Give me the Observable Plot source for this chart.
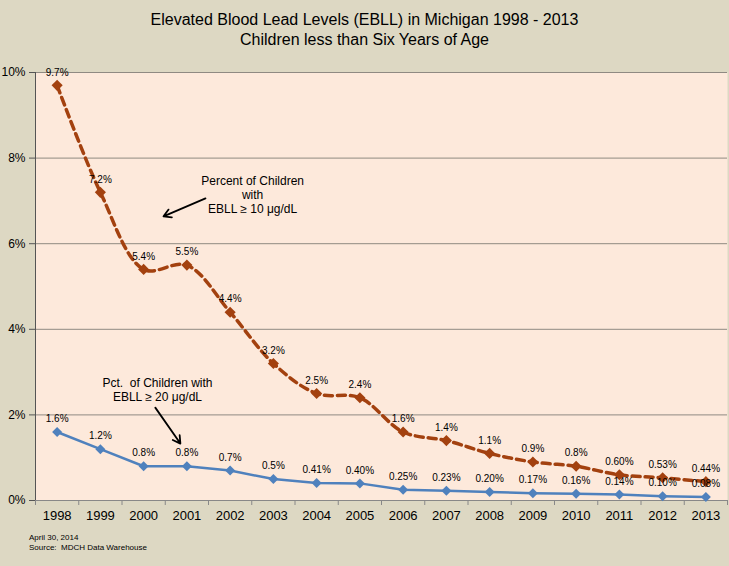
<!DOCTYPE html>
<html><head><meta charset="utf-8">
<script src="https://cdn.jsdelivr.net/npm/d3@7"></script>
<script src="https://cdn.jsdelivr.net/npm/@observablehq/plot@0.6"></script>
<style>
html,body{margin:0;padding:0;background:#DDD8C3;width:729px;height:566px;overflow:hidden;font-family:"Liberation Sans",Arial,sans-serif;}
#title{height:60px;text-align:center;font-size:16px;line-height:20px;padding-top:0;color:#000;}
#title div:first-child{padding-top:10px;}
#chart svg{display:block;}
#foot{position:absolute;left:29px;top:533px;font-size:8px;line-height:10px;color:#000;}
</style></head>
<body>
<div id="title"><div>Elevated Blood Lead Levels (EBLL) in Michigan 1998 - 2013</div><div>Children less than Six Years of Age</div></div>
<div id="chart"></div>
<div id="foot">April 30, 2014<br>Source:&nbsp; MDCH Data Warehouse</div>
<script>
const years = [1998,1999,2000,2001,2002,2003,2004,2005,2006,2007,2008,2009,2010,2011,2012,2013];
const ebll10 = [9.7,7.2,5.4,5.5,4.4,3.2,2.5,2.4,1.6,1.4,1.1,0.9,0.8,0.60,0.53,0.44];
const labels10 = ["9.7%","7.2%","5.4%","5.5%","4.4%","3.2%","2.5%","2.4%","1.6%","1.4%","1.1%","0.9%","0.8%","0.60%","0.53%","0.44%"];
const ebll20 = [1.6,1.2,0.8,0.8,0.7,0.5,0.41,0.40,0.25,0.23,0.20,0.17,0.16,0.14,0.10,0.08];
const labels20 = ["1.6%","1.2%","0.8%","0.8%","0.7%","0.5%","0.41%","0.40%","0.25%","0.23%","0.20%","0.17%","0.16%","0.14%","0.10%","0.08%"];
const yTicks = [0,2,4,6,8,10];
const notes = [
  {x:2002.52, y:7.59, text:"Percent of Children\nwith\nEBLL ≥ 10 μg/dL"},
  {x:2000.32, y:2.88, text:"Pct.  of Children with\nEBLL ≥ 20 μg/dL"}
];
const arrows = [
  {x1:2001.43, y1:7.06, x2:2000.46, y2:6.64},
  {x1:2000.27, y1:2.17, x2:2000.85, y2:1.33}
];

const d10 = years.map((y,i)=>({year:y, v:ebll10[i], label:labels10[i]}));
const d20 = years.map((y,i)=>({year:y, v:ebll20[i], label:labels20[i]}));
const bounds = d3.range(years.length+1).map(i=>years[0]-0.5+i);
const orange = "#A3410F", blue = "#4F81BD";

const chart = Plot.plot({
  width:729, height:470,
  marginLeft:35, marginRight:2, marginTop:12, marginBottom:30,
  style:{fontFamily:"'Liberation Sans',Arial,sans-serif", fontSize:"12px", background:"transparent", color:"#000"},
  x:{domain:[years[0]-0.5, years[years.length-1]+0.5]},
  y:{domain:[0,10]},
  marks:[
    Plot.frame({fill:"#FDE9DB", stroke:null}),
    Plot.gridY(yTicks.filter(t=>t>0), {stroke:"#8f8a82", strokeOpacity:1, strokeWidth:1}),
    Plot.ruleX([bounds[0]], {stroke:"#555", strokeWidth:1}),
    Plot.ruleY([0], {stroke:"#888", strokeWidth:1}),
    Plot.axisY({ticks:yTicks, tickFormat:d=>d+"%", tickSize:6, tickPadding:4, fontSize:12, label:null, stroke:"#555"}),
    Plot.axisX({ticks:bounds, tickFormat:()=>"", tickSize:5, label:null, stroke:"#888"}),
    Plot.axisX({ticks:years, tickFormat:d=>String(d), tickSize:0, tickPadding:10, fontSize:13, label:null}),
    Plot.line(d10, {x:"year", y:"v", stroke:orange, strokeWidth:3.5, strokeDasharray:"8,5", curve:"catmull-rom"}),
    Plot.dot(d10, {x:"year", y:"v", symbol:"diamond2", r:5, fill:orange, stroke:null}),
    Plot.line(d20, {x:"year", y:"v", stroke:blue, strokeWidth:2.5}),
    Plot.dot(d20, {x:"year", y:"v", symbol:"diamond2", r:4.5, fill:blue, stroke:null}),
    Plot.text(d10, {x:"year", y:"v", text:"label", dy:-13, fontSize:10, fill:"#000"}),
    Plot.text(d20, {x:"year", y:"v", text:"label", dy:-13, fontSize:10, fill:"#000"}),
    Plot.text(notes, {x:"x", y:"y", text:"text", fontSize:12, lineHeight:1.15, textAnchor:"middle", lineAnchor:"top", fill:"#000"}),
    Plot.arrow(arrows, {x1:"x1", y1:"y1", x2:"x2", y2:"y2", stroke:"#000", strokeWidth:1.8, headLength:7})
  ]
});
document.getElementById("chart").appendChild(chart);
</script>
</body></html>
